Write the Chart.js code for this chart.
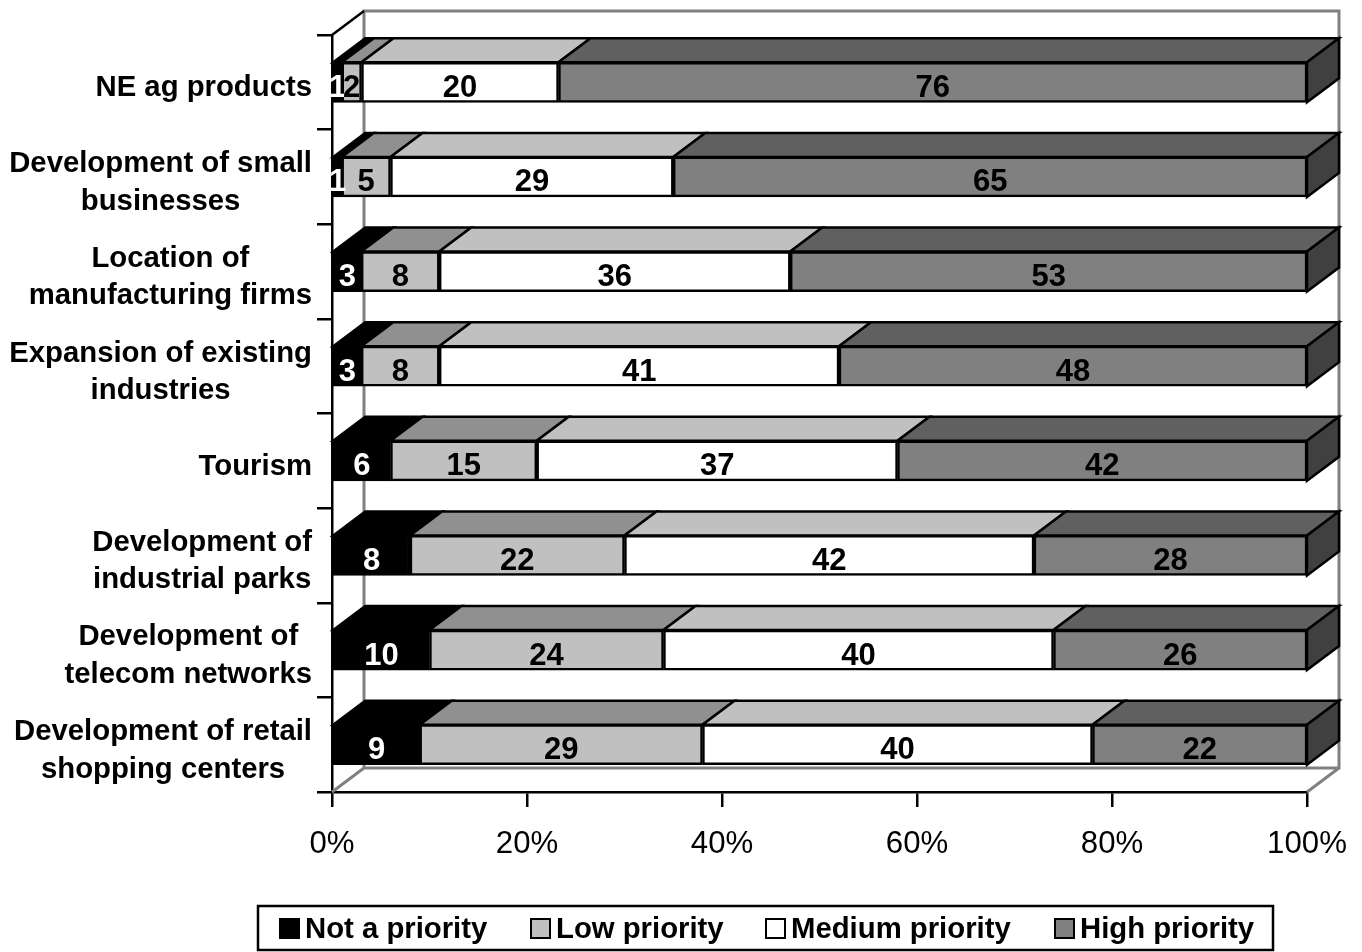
<!DOCTYPE html>
<html>
<head>
<meta charset="utf-8">
<title>Priorities</title>
<script src="https://cdn.jsdelivr.net/npm/chart.js@4"></script>
<style>
  html, body { margin: 0; background: #fff; }
  canvas { display: block; }
</style>
</head>
<body>
<canvas id="myChart" width="1362" height="952"></canvas>
<script>
// Values, in percent
const categories = [
  ['NE ag products'],
  ['Development of small', 'businesses'],
  ['Location of', 'manufacturing firms'],
  ['Expansion of existing', 'industries'],
  ['Tourism'],
  ['Development of', 'industrial parks'],
  ['Development of', 'telecom networks'],
  ['Development of retail', 'shopping centers']
];
const seriesNames = ['Not a priority', 'Low priority', 'Medium priority', 'High priority'];
const notPriority = [1, 1, 3, 3, 6, 8, 10, 9];
const lowPriority = [2, 5, 8, 8, 15, 22, 24, 29];
const mediumPriority = [20, 29, 36, 41, 37, 42, 40, 40];
const highPriority = [76, 65, 53, 48, 42, 28, 26, 22];

const allSeries = [notPriority, lowPriority, mediumPriority, highPriority];
const frontColors = ['#000000', '#c0c0c0', '#ffffff', '#808080'];
const topColors = ['#000000', '#909090', '#c0c0c0', '#606060'];
const sideColor = '#404040';
const labelColors = ['#ffffff', '#000000', '#000000', '#000000'];
const font = '"Liberation Sans", Arial, sans-serif';

// depth of the fake 3D
const depthX = 32;
const depthY = 24;

// the first row only adds up to 99, the bars still fill the whole axis
const rowTotals = categories.map((c, i) => allSeries.reduce((sum, s) => sum + s[i], 0));

function poly(ctx, pts, fill, stroke, width) {
  ctx.beginPath();
  pts.forEach((p, i) => i ? ctx.lineTo(p[0], p[1]) : ctx.moveTo(p[0], p[1]));
  ctx.closePath();
  if (fill) { ctx.fillStyle = fill; ctx.fill(); }
  if (stroke) { ctx.strokeStyle = stroke; ctx.lineWidth = width; ctx.stroke(); }
}

// walls behind the bars, top and side faces of the bars
const depthPlugin = {
  id: 'depth',
  beforeDatasetsDraw(chart) {
    const ctx = chart.ctx;
    const a = chart.chartArea;
    ctx.save();
    ctx.lineJoin = 'miter';

    // gray back wall and floor edges
    ctx.strokeStyle = '#808080';
    ctx.lineWidth = 3;
    ctx.beginPath();
    ctx.moveTo(a.left + depthX, a.top - depthY);
    ctx.lineTo(a.right + depthX, a.top - depthY);
    ctx.lineTo(a.right + depthX, a.bottom - depthY);
    ctx.lineTo(a.left + depthX, a.bottom - depthY);
    ctx.closePath();
    ctx.moveTo(a.left, a.bottom);
    ctx.lineTo(a.left + depthX, a.bottom - depthY);
    ctx.moveTo(a.right, a.bottom);
    ctx.lineTo(a.right + depthX, a.bottom - depthY);
    ctx.stroke();

    // black edge of the side wall
    ctx.strokeStyle = '#000';
    ctx.lineWidth = 2.5;
    ctx.beginPath();
    ctx.moveTo(a.left, a.top);
    ctx.lineTo(a.left + depthX, a.top - depthY);
    ctx.stroke();

    chart.data.datasets.forEach((ds, d) => {
      chart.getDatasetMeta(d).data.forEach(bar => {
        const top = bar.y - bar.height / 2;
        const bottom = bar.y + bar.height / 2;
        poly(ctx, [
          [bar.base, top],
          [bar.base + depthX, top - depthY],
          [bar.x + depthX, top - depthY],
          [bar.x, top]
        ], topColors[d], '#000', 2.5);
        if (d === chart.data.datasets.length - 1) {
          poly(ctx, [
            [bar.x, top],
            [bar.x + depthX, top - depthY],
            [bar.x + depthX, bottom - depthY],
            [bar.x, bottom]
          ], sideColor, '#000', 2.5);
        }
      });
    });
    ctx.restore();
  },

  // numbers on the bars
  afterDatasetsDraw(chart) {
    const ctx = chart.ctx;
    ctx.save();
    ctx.font = 'bold 31px ' + font;
    ctx.textAlign = 'center';
    ctx.textBaseline = 'middle';
    chart.data.datasets.forEach((ds, d) => {
      ctx.fillStyle = labelColors[d];
      chart.getDatasetMeta(d).data.forEach((bar, i) => {
        ctx.fillText(allSeries[d][i], (bar.base + bar.x) / 2, bar.y + 6);
      });
    });
    ctx.restore();
  }
};

// category names: block sits against the axis, lines centred in the block
const categoryPlugin = {
  id: 'categoryNames',
  afterDraw(chart) {
    const ctx = chart.ctx;
    const scale = chart.scales.y;
    const rightEdge = chart.chartArea.left - 20;
    const lineHeight = 37.5;
    ctx.save();
    ctx.font = 'bold 29.3px ' + font;
    ctx.fillStyle = '#000';
    ctx.textAlign = 'center';
    ctx.textBaseline = 'middle';
    categories.forEach((lines, i) => {
      const widest = Math.max(...lines.map(l => ctx.measureText(l).width));
      const cy = scale.getPixelForValue(i) + 6;
      lines.forEach((line, n) => {
        const y = cy + (n - (lines.length - 1) / 2) * lineHeight;
        ctx.fillText(line, rightEdge - widest / 2, y);
      });
    });
    ctx.restore();
  }
};

// legend box at the bottom
const legendPlugin = {
  id: 'boxLegend',
  afterDraw(chart) {
    const ctx = chart.ctx;
    const boxX = [280, 531, 766, 1055];
    ctx.save();
    ctx.strokeStyle = '#000';
    ctx.lineWidth = 2.5;
    ctx.strokeRect(258, 906, 1015, 44);
    ctx.font = 'bold 29.3px ' + font;
    ctx.textAlign = 'left';
    ctx.textBaseline = 'middle';
    seriesNames.forEach((name, i) => {
      ctx.fillStyle = frontColors[i];
      ctx.lineWidth = 2;
      ctx.fillRect(boxX[i], 919, 19, 19);
      ctx.strokeRect(boxX[i], 919, 19, 19);
      ctx.fillStyle = '#000';
      ctx.fillText(name, boxX[i] + 25, 930);
    });
    ctx.restore();
  }
};

new Chart(document.getElementById('myChart'), {
  type: 'bar',
  data: {
    labels: categories,
    datasets: seriesNames.map((name, d) => ({
      label: name,
      data: allSeries[d].map((v, i) => v / rowTotals[i] * 100),
      backgroundColor: frontColors[d],
      borderColor: '#000',
      borderWidth: 2.5,
      borderSkipped: false,
      barThickness: 40
    }))
  },
  options: {
    indexAxis: 'y',
    responsive: false,
    animation: false,
    devicePixelRatio: 1,
    layout: { padding: { top: 35, right: 55, bottom: 0, left: 0 } },
    plugins: { legend: { display: false }, tooltip: { enabled: false } },
    scales: {
      x: {
        stacked: true,
        min: 0,
        max: 100,
        // keep the plot edges fixed, the 100% label may hang over
        afterFit(scale) {
          scale.height = 160;
          scale.paddingLeft = 0;
          scale.paddingRight = 0;
        },
        grid: { drawOnChartArea: false, color: '#000', lineWidth: 2.5, tickLength: 15 },
        border: { color: '#000', width: 2.5 },
        ticks: {
          stepSize: 20,
          maxRotation: 0,
          padding: 19,
          color: '#000',
          font: { family: font, size: 31.2 },
          callback: v => v + '%'
        }
      },
      y: {
        stacked: true,
        afterFit(scale) { scale.width = 332; },
        grid: { drawOnChartArea: false, color: '#000', lineWidth: 2.5, tickLength: 15 },
        border: { color: '#000', width: 2.5 },
        ticks: { display: false }
      }
    }
  },
  plugins: [depthPlugin, categoryPlugin, legendPlugin]
});
</script>
</body>
</html>
